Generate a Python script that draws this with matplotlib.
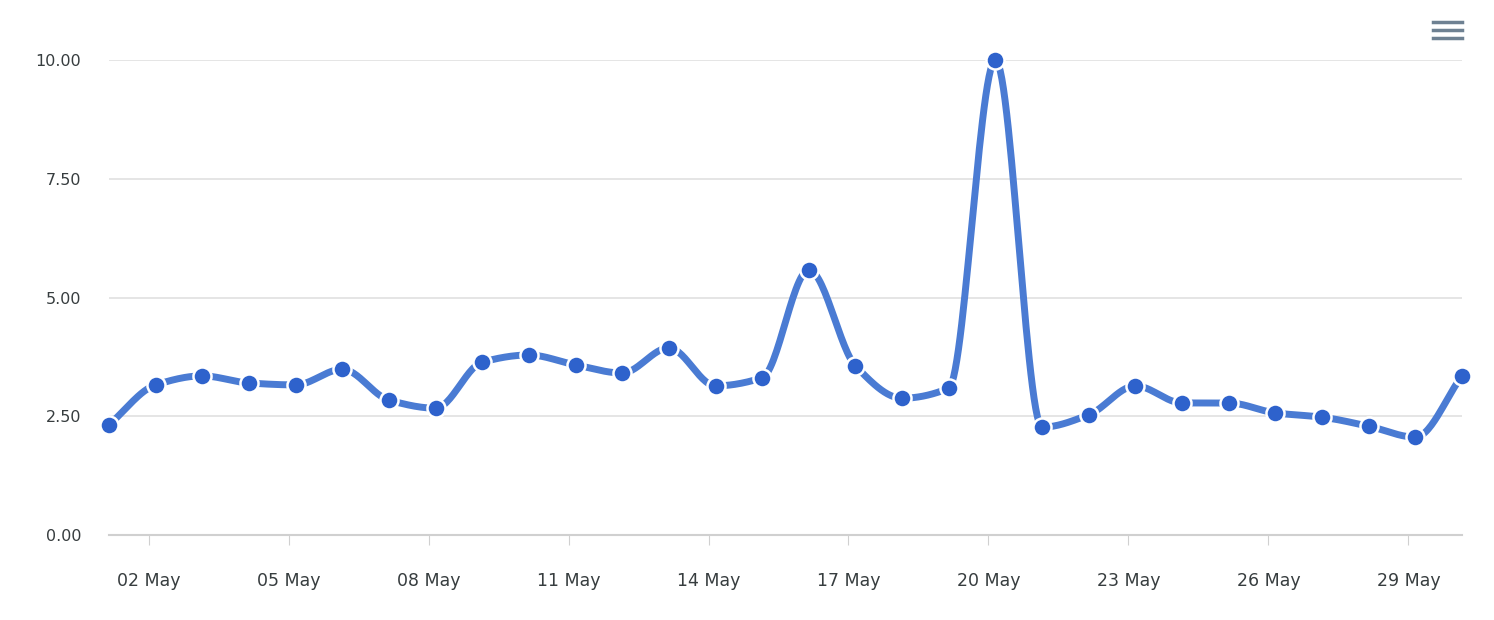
import numpy as np
import matplotlib.pyplot as plt
from matplotlib.lines import Line2D

days = list(range(1, 31))
values = [2.32, 3.16, 3.35, 3.20, 3.16, 3.49, 2.84, 2.67, 3.64, 3.79,
          3.58, 3.41, 3.94, 3.14, 3.31, 5.58, 3.56, 2.88, 3.09, 10.00,
          2.27, 2.53, 3.14, 2.78, 2.78, 2.57, 2.48, 2.29, 2.06, 3.35]
tick_days = [2, 5, 8, 11, 14, 17, 20, 23, 26, 29]
tick_labels = ['%02d May' % d for d in tick_days]
y_ticks = [0, 2.5, 5, 7.5, 10]

x = np.array(days) + 0.15
y = np.array(values)


def monotone(xs, ys, n=30):
    # Fritsch-Carlson monotone cubic, like the library's smooth curve
    h = np.diff(xs)
    d = np.diff(ys) / h
    m = np.zeros(len(xs))
    m[0], m[-1] = d[0], d[-1]
    for i in range(1, len(xs) - 1):
        if d[i - 1] * d[i] > 0:
            m[i] = 2 / (1 / d[i - 1] + 1 / d[i])
    ox, oy = [], []
    t = np.linspace(0, 1, n)
    for i in range(len(xs) - 1):
        h00 = 2 * t ** 3 - 3 * t ** 2 + 1
        h10 = t ** 3 - 2 * t ** 2 + t
        h01 = -2 * t ** 3 + 3 * t ** 2
        h11 = t ** 3 - t ** 2
        ox.extend(xs[i] + t * h[i])
        oy.extend(h00 * ys[i] + h10 * h[i] * m[i] + h01 * ys[i + 1] + h11 * h[i] * m[i + 1])
    return np.array(ox), np.array(oy)


sx, sy = monotone(x, y)

fig = plt.figure(figsize=(14.94, 6.2), dpi=100)
ax = fig.add_axes([109 / 1494, 1 - 535 / 620, (1462 - 109) / 1494, 475 / 620])
ax.plot(sx, sy, color='#4a7bd3', lw=5, solid_capstyle='round', clip_on=False, zorder=3)
ax.plot(x, y, 'o', ms=13, color='#2e62cc', mec='white', mew=1.8, clip_on=False, zorder=4)

ax.set_xlim(x[0], x[-1])
ax.set_ylim(0, 10)
ax.set_yticks(y_ticks)
ax.set_yticklabels(['%.2f' % v for v in y_ticks])
ax.set_xticks(tick_days)
ax.set_xticklabels(tick_labels)
ax.grid(axis='y', color='#e0e0e0', lw=1.2)
ax.set_axisbelow(True)
for s in ['top', 'right', 'left']:
    ax.spines[s].set_visible(False)
ax.spines['bottom'].set_color('#d0d0d0')
ax.spines['bottom'].set_linewidth(1.5)
ax.tick_params(axis='y', length=0, pad=20, labelsize=11.5, labelcolor='#373d3f')
ax.tick_params(axis='x', length=7, color='#d0d0d0', pad=20, labelsize=12.5, labelcolor='#373d3f')

# menu icon
for yy in (0.965, 0.952, 0.939):
    fig.add_artist(Line2D([1433 / 1494, 1462 / 1494], [yy, yy], color='#6e8192', lw=2.5))

fig.savefig('out.png', dpi=100)
